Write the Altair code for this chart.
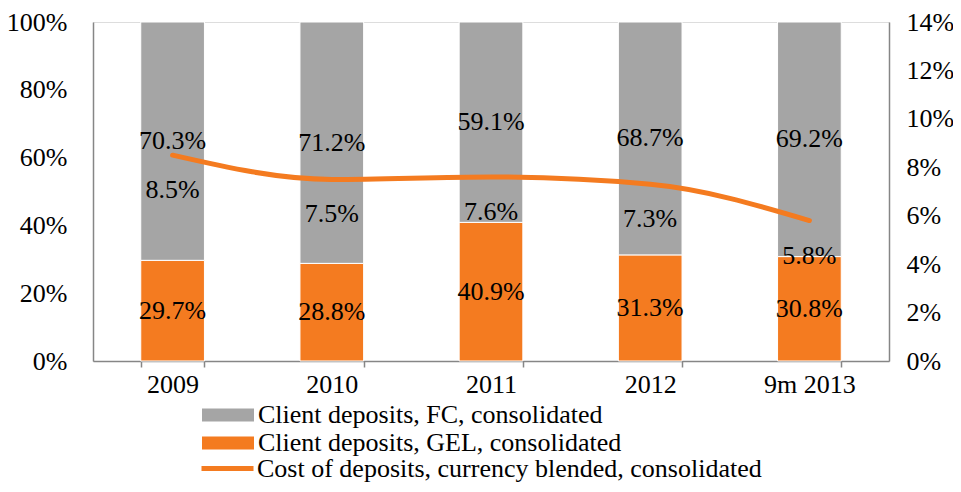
import altair as alt
import pandas as pd

years = ["2009", "2010", "2011", "2012", "9m 2013"]
fc = [70.3, 71.2, 59.1, 68.7, 69.2]
gel = [29.7, 28.8, 40.9, 31.3, 30.8]
cost = [8.5, 7.5, 7.6, 7.3, 5.8]
left_ticks = [0, 0.2, 0.4, 0.6, 0.8, 1.0]
right_ticks = [0, 0.02, 0.04, 0.06, 0.08, 0.10, 0.12, 0.14]

fc_name = "Client deposits, FC, consolidated"
gel_name = "Client deposits, GEL, consolidated"
cost_name = "Cost of deposits, currency blended, consolidated"
title_text = "Cost of Deposits, YTD"

GRAY = "#A5A5A5"
ORANGE = "#F47B20"
AX = "#868686"
FONT = "Liberation Serif"
FS = 26

rows = []
for y, f, g in zip(years, fc, gel):
    rows.append(dict(year=y, series=gel_name, value=g / 100, ord=0, mid=g / 200, label=f"{g:.1f}%"))
    rows.append(dict(year=y, series=fc_name, value=f / 100, ord=1, mid=(g + f / 2) / 100, label=f"{f:.1f}%"))
bars_df = pd.DataFrame(rows)
line_df = pd.DataFrame(dict(year=years, cost=[c / 100 for c in cost], series=cost_name,
                            label=[f"{c:.1f}%" for c in cost]))

x = alt.X("year:N", sort=years, title=None,
          scale=alt.Scale(paddingInner=0.6, paddingOuter=0.3),
          axis=alt.Axis(labelAngle=0, labelFont=FONT, labelFontSize=FS, labelColor="black",
                        tickBand="extent", tickSize=6, tickColor=AX, domainColor=AX,
                        labelPadding=4, domainWidth=1.5, tickWidth=1.5))

left_scale = alt.Scale(domain=[0, 1], nice=False)
left_axis = alt.Axis(values=left_ticks, format=".0%", grid=False, ticks=False, domainColor=AX,
                     domainWidth=1.5, labelFont=FONT, labelFontSize=FS, labelColor="black",
                     labelPadding=26, title=None)
right_scale = alt.Scale(domain=[0, 0.14], nice=False)
right_axis = alt.Axis(orient="right", values=right_ticks, format=".0%", grid=False, ticks=False,
                      domainColor=AX, domainWidth=1.5, labelFont=FONT, labelFontSize=FS,
                      labelColor="black", labelPadding=17, title=None)

bars = alt.Chart(bars_df).mark_bar(stroke="white", strokeWidth=1).encode(
    x=x,
    y=alt.Y("value:Q", stack="zero", scale=left_scale, axis=left_axis),
    color=alt.Color("series:N", scale=alt.Scale(domain=[fc_name, gel_name], range=[GRAY, ORANGE]),
                    legend=alt.Legend(title=None, orient="none", legendX=122, legendY=380,
                                      symbolType="M-2,-0.5H2V0.5H-2Z", symbolSize=676,
                                      symbolStrokeWidth=0, labelFont=FONT, labelFontSize=FS,
                                      labelColor="black", labelOffset=17, rowPadding=2,
                                      padding=0, labelLimit=0)),
    order=alt.Order("ord:Q"),
)

bar_text = alt.Chart(bars_df).mark_text(font=FONT, fontSize=FS, color="black", baseline="middle").encode(
    x=x,
    y=alt.Y("mid:Q", scale=left_scale, axis=left_axis),
    text="label:N",
)

line = alt.Chart(line_df).mark_line(strokeWidth=5, interpolate="monotone", strokeCap="round").encode(
    x=x,
    y=alt.Y("cost:Q", scale=right_scale, axis=right_axis),
    stroke=alt.Stroke("series:N", scale=alt.Scale(domain=[cost_name], range=[ORANGE]),
                      legend=alt.Legend(title=None, orient="none", legendX=119, legendY=431,
                                        symbolType="M-2,0H2", symbolSize=676, symbolStrokeWidth=5,
                                        labelFont=FONT, labelFontSize=FS, labelColor="black",
                                        labelOffset=14, padding=0, labelLimit=0)),
)

line_text = alt.Chart(line_df).mark_text(font=FONT, fontSize=FS, color="black", baseline="middle", dy=35).encode(
    x=x,
    y=alt.Y("cost:Q", scale=right_scale, axis=right_axis),
    text="label:N",
)

left = alt.layer(bars, bar_text)
right = alt.layer(line, line_text)

chart = alt.layer(left, right).resolve_scale(y="independent").properties(
    width=796,
    height=339,
    autosize=alt.AutoSizeParams(type="none"),
    padding={"left": 85, "top": 14, "right": 64, "bottom": 123},
    title=alt.TitleParams(title_text, font=FONT, fontSize=28, fontStyle="italic", fontWeight="bold",
                          color="black", offset=9, baseline="alphabetic", dx=-21, anchor="middle"),
).configure_view(stroke=None).configure(background="white")

chart.save("out.html", embed_options={"renderer": "svg", "actions": False})
